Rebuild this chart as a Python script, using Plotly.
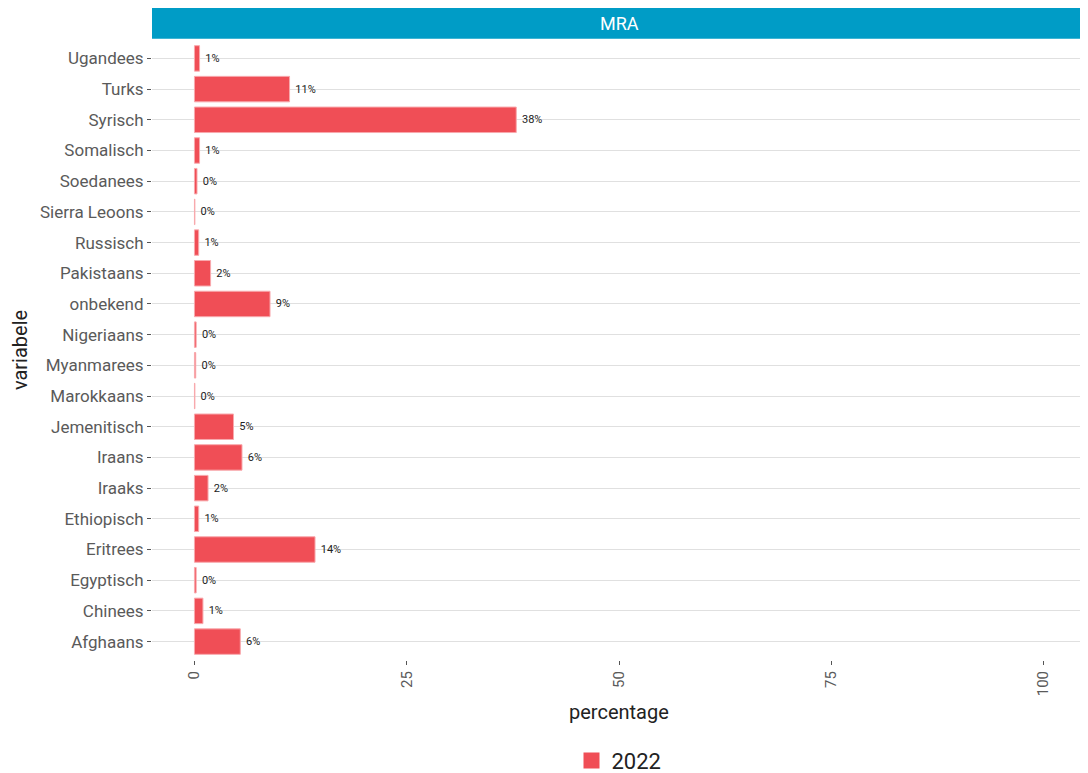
import plotly.graph_objects as go

categories = ["Afghaans", "Chinees", "Egyptisch", "Eritrees", "Ethiopisch", "Iraaks", "Iraans",
              "Jemenitisch", "Marokkaans", "Myanmarees", "Nigeriaans", "onbekend", "Pakistaans",
              "Russisch", "Sierra Leoons", "Soedanees", "Somalisch", "Syrisch", "Turks", "Ugandees"]
values = [5.4, 1.0, 0.2, 14.2, 0.5, 1.6, 5.6, 4.6, 0.05, 0.15, 0.2, 8.9, 1.9,
          0.5, 0.05, 0.3, 0.6, 37.9, 11.2, 0.6]
labels = ["6%", "1%", "0%", "14%", "1%", "2%", "6%", "5%", "0%", "0%", "0%", "9%", "2%",
          "1%", "0%", "0%", "1%", "38%", "11%", "1%"]
series_name = "2022"
panel_title = "MRA"
x_title = "percentage"
y_title = "variabele"
x_ticks = [0, 25, 50, 75, 100]

FONT = "Roboto, sans-serif"
BAR = "#F04E56"

fig = go.Figure()
fig.add_trace(go.Bar(
    y=categories, x=values, orientation="h", name=series_name, showlegend=False,
    marker=dict(color=BAR, line=dict(color="#F8A9AD", width=1)),
    text=["\u00a0" + t for t in labels], textposition="outside", cliponaxis=False,
    textfont=dict(size=11, color="#222222", family=FONT),
    width=0.83,
))
# legend entry
fig.add_trace(go.Scatter(
    x=[None], y=[None], mode="markers", name=series_name,
    marker=dict(symbol="square", size=22, color=BAR),
))

fig.update_layout(
    width=1080, height=765,
    margin=dict(l=144, r=2, t=32, b=113),
    plot_bgcolor="white", paper_bgcolor="white",
    font=dict(family=FONT, color="#4d4d4d", size=17),
    showlegend=True,
    legend=dict(orientation="h", x=0.5, xanchor="center", yref="container",
                y=0.016, yanchor="middle",
                itemsizing="trace",
                font=dict(size=22, color="#222222", family=FONT)),
    xaxis=dict(range=[-5, 105], tickvals=x_ticks, tickangle=-90, showgrid=False,
               zeroline=False, ticks="outside", ticklen=4, tickcolor="#555555",
               automargin=False,
               tickfont=dict(size=15, color="#5a5a5a")),
    yaxis=dict(categoryorder="array", categoryarray=categories, showgrid=True,
               gridcolor="#e0e0e0", gridwidth=1.3, ticks="outside", ticklen=4,
               tickcolor="#555555", tickfont=dict(size=17, color="#5a5a5a"),
               range=[-0.6, 19.6],
               title=dict(text=y_title, font=dict(size=20, color="#222222"), standoff=6)),
)

fig.add_annotation(text=x_title, xref="paper", yref="paper", x=0.5, y=-0.084,
                   showarrow=False, yanchor="middle",
                   font=dict(size=20, color="#222222", family=FONT))
fig.add_shape(type="rect", xref="paper", yref="paper", x0=0, x1=1, y0=1.002, y1=1.052,
              fillcolor="#009CC6", line=dict(width=0))
fig.add_annotation(text=panel_title, xref="paper", yref="paper", x=0.5, y=1.027,
                   showarrow=False, font=dict(size=18, color="white", family=FONT),
                   yanchor="middle")

fig.write_html("out.html")
